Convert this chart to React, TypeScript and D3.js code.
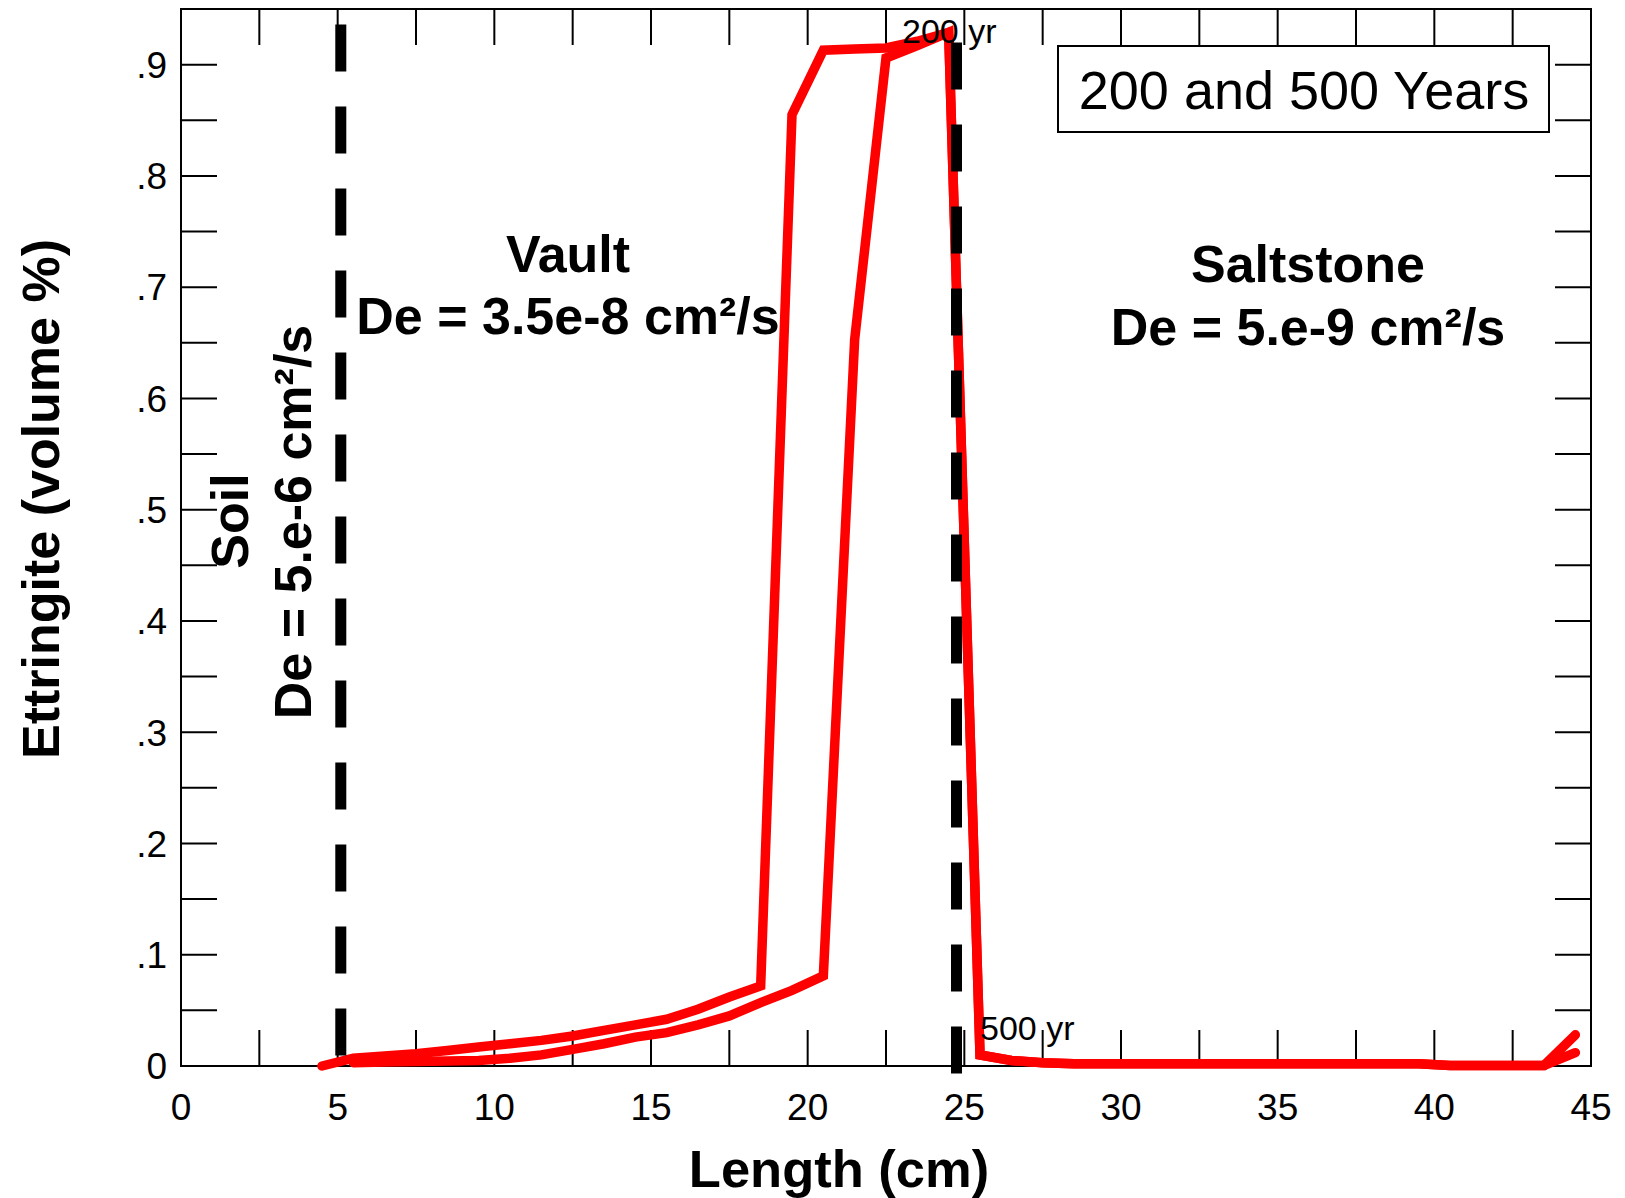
import React, { useEffect, useRef } from 'react';
import * as d3 from 'd3';

// distance from the soil edge, cm (cell centres)
const lengthCm = [
  4.5, 5.5, 6.5, 7.5, 8.5, 9.5, 10.5, 11.5, 12.5, 13.5, 14.5, 15.5, 16.5, 17.5,
  18.5, 19.5, 20.5, 21.5, 22.5, 23.5, 24.5, 25.5, 26.5, 27.5, 28.5, 29.5, 30.5,
  31.5, 32.5, 33.5, 34.5, 35.5, 36.5, 37.5, 38.5, 39.5, 40.5, 41.5, 42.5, 43.5, 44.5,
];

// ettringite, volume %
const outerCurve = [
  0, 0.007, 0.009, 0.011, 0.014, 0.017, 0.02, 0.023, 0.027, 0.032, 0.037, 0.042,
  0.051, 0.062, 0.072, 0.855, 0.913, 0.914, 0.915, 0.921, 0.929, 0.01, 0.005,
  0.003, 0.002, 0.002, 0.002, 0.002, 0.002, 0.002, 0.002, 0.002, 0.002, 0.002,
  0.002, 0.002, 0.0005, 0.0005, 0.0005, 0.0005, 0.028,
];
const innerCurve = [
  null, 0.003, 0.0035, 0.004, 0.0045, 0.005, 0.007, 0.01, 0.015, 0.02, 0.026, 0.03,
  0.037, 0.045, 0.057, 0.068, 0.081, 0.653, 0.906, 0.917, 0.929, 0.01, 0.005,
  0.003, 0.002, 0.002, 0.002, 0.002, 0.002, 0.002, 0.002, 0.002, 0.002, 0.002,
  0.002, 0.002, 0.0005, 0.0005, 0.0005, 0.0005, 0.012,
];

const xTicks = [0, 5, 10, 15, 20, 25, 30, 35, 40, 45];
const xTickLabels = ['0', '5', '10', '15', '20', '25', '30', '35', '40', '45'];
const xMinorTicks = [2.5, 7.5, 12.5, 17.5, 22.5, 27.5, 32.5, 37.5, 42.5];
const yTicks = [0, 0.1, 0.2, 0.3, 0.4, 0.5, 0.6, 0.7, 0.8, 0.9];
const yTickLabels = ['0', '.1', '.2', '.3', '.4', '.5', '.6', '.7', '.8', '.9'];
const yMinorTicks = [0.05, 0.15, 0.25, 0.35, 0.45, 0.55, 0.65, 0.75, 0.85];

// material boundaries (dashed)
const boundaries = [
  { x: 5.1, top: 0.936, bottom: 0 },
  { x: 24.75, top: 0.92, bottom: -0.009 },
];

const FONT = 'Liberation Sans, Arial, sans-serif';

export default function App() {
  const ref = useRef<SVGSVGElement | null>(null);

  useEffect(() => {
    const svg = d3.select(ref.current);
    svg.selectAll('*').remove();

    const left = 181, right = 1591, top = 9, bottom = 1066;
    const x = d3.scaleLinear().domain([0, 45]).range([left, right]);
    const y = d3.scaleLinear().domain([0, 0.95]).range([bottom, top]);
    const tickLen = 36;

    const g = svg.append('g');

    // ticks on all four sides, pointing in
    const allX = [...xTicks, ...xMinorTicks];
    const allY = [...yTicks, ...yMinorTicks];
    allX.forEach(v => {
      g.append('line').attr('x1', x(v)).attr('x2', x(v)).attr('y1', bottom).attr('y2', bottom - tickLen)
        .attr('stroke', '#000').attr('stroke-width', 2);
      g.append('line').attr('x1', x(v)).attr('x2', x(v)).attr('y1', top).attr('y2', top + tickLen)
        .attr('stroke', '#000').attr('stroke-width', 2);
    });
    allY.forEach(v => {
      g.append('line').attr('x1', left).attr('x2', left + tickLen).attr('y1', y(v)).attr('y2', y(v))
        .attr('stroke', '#000').attr('stroke-width', 2);
      g.append('line').attr('x1', right).attr('x2', right - tickLen).attr('y1', y(v)).attr('y2', y(v))
        .attr('stroke', '#000').attr('stroke-width', 2);
    });

    g.append('rect')
      .attr('x', left).attr('y', top).attr('width', right - left).attr('height', bottom - top)
      .attr('fill', 'none').attr('stroke', '#000').attr('stroke-width', 2);

    // tick labels
    xTicks.forEach((v, i) => {
      g.append('text').attr('x', x(v)).attr('y', 1120).attr('text-anchor', 'middle')
        .attr('font-family', FONT).attr('font-size', 37).text(xTickLabels[i]);
    });
    yTicks.forEach((v, i) => {
      g.append('text').attr('x', 167).attr('y', y(v)).attr('dy', '0.36em').attr('text-anchor', 'end')
        .attr('font-family', FONT).attr('font-size', 37).text(yTickLabels[i]);
    });

    // curves
    const line = d3.line<[number, number | null]>()
      .defined(d => d[1] !== null)
      .x(d => x(d[0]))
      .y(d => y(d[1] as number));

    [innerCurve, outerCurve].forEach(vals => {
      const pts = lengthCm.map((l, i) => [l, vals[i]] as [number, number | null]);
      g.append('path')
        .attr('d', line(pts))
        .attr('fill', 'none')
        .attr('stroke', '#ff0000')
        .attr('stroke-width', 9.5)
        .attr('stroke-linejoin', 'miter')
        .attr('stroke-linecap', 'round');
    });

    // dashed boundaries
    boundaries.forEach(b => {
      g.append('line')
        .attr('x1', x(b.x)).attr('x2', x(b.x))
        .attr('y1', y(b.top)).attr('y2', y(b.bottom))
        .attr('stroke', '#000').attr('stroke-width', 11)
        .attr('stroke-dasharray', '47 35');
    });

    // labels
    const label = (tx: number, ty: number, s: string, size: number, bold: boolean, anchor = 'middle', rot = 0) => {
      g.append('text')
        .attr('transform', `translate(${tx},${ty}) rotate(${rot})`)
        .attr('text-anchor', anchor)
        .attr('font-family', FONT)
        .attr('font-size', size)
        .attr('font-weight', bold ? 'bold' : 'normal')
        .text(s);
    };

    label(568, 272, 'Vault', 52, true);
    label(568, 334, 'De = 3.5e-8 cm²/s', 52, true);
    label(1308, 282, 'Saltstone', 52, true);
    label(1308, 345, 'De = 5.e-9 cm²/s', 52, true);
    label(248, 521, 'Soil', 52, true, 'middle', -90);
    label(311, 522, 'De = 5.e-6 cm²/s', 52, true, 'middle', -90);
    label(902, 43, '200 yr', 34, false, 'start');
    label(980, 1040, '500 yr', 34, false, 'start');

    g.append('rect')
      .attr('x', 1058).attr('y', 46).attr('width', 491).attr('height', 86)
      .attr('fill', '#fff').attr('stroke', '#000').attr('stroke-width', 2);
    label(1304, 109, '200 and 500 Years', 54, false);

    label(839, 1187, 'Length (cm)', 52.5, true);
    label(59, 499, 'Ettringite (volume %)', 52, true, 'middle', -90);
  }, []);

  return (
    <svg
      ref={ref}
      width={1625}
      height={1198}
      style={{ position: 'absolute', left: 0, top: 0, background: '#fff' }}
    />
  );
}
